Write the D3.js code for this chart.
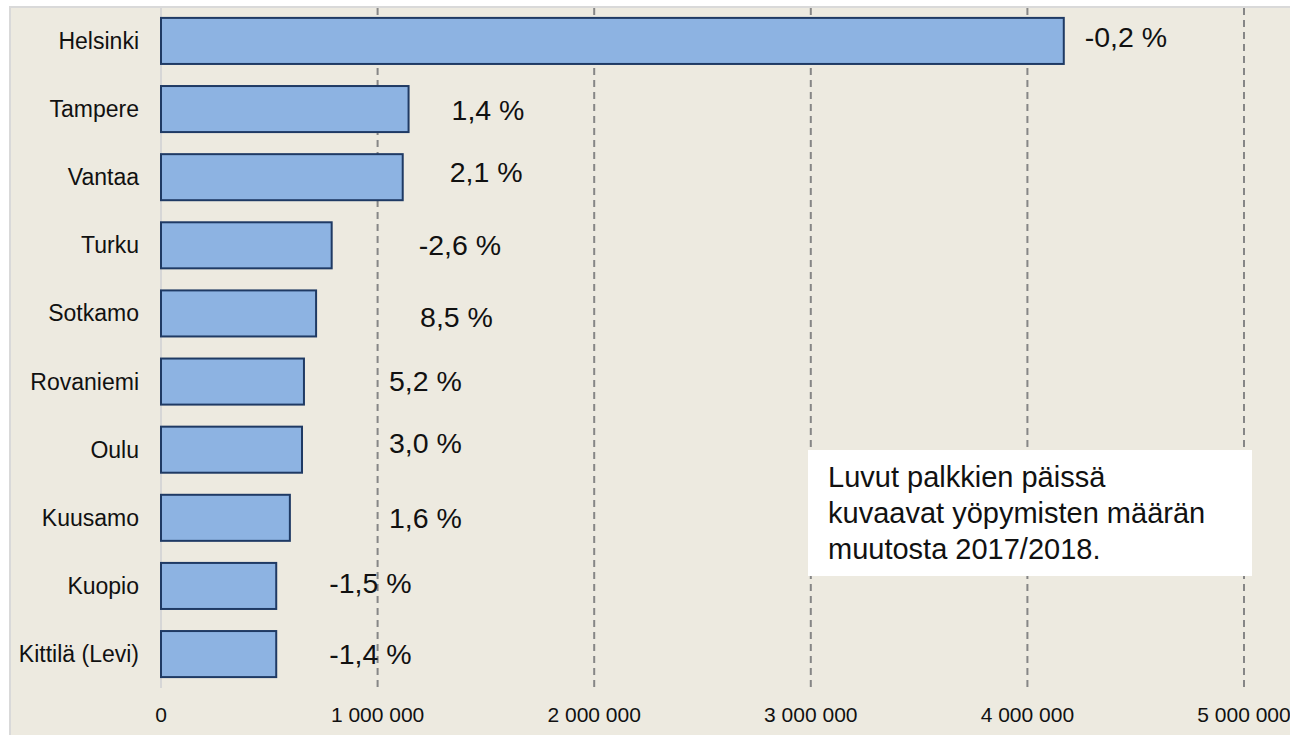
<!DOCTYPE html>
<html>
<head>
<meta charset="utf-8">
<script src="https://cdn.jsdelivr.net/npm/d3@7.9.0/dist/d3.min.js"></script>
<style>
  body { margin: 0; background: #fff; }
  svg { display: block; font-family: "Liberation Sans", Arial, sans-serif; }
</style>
</head>
<body>
<svg id="chart" width="1290" height="735"></svg>
<script>
// overnight stays 2018 by municipality
const cities = ['Helsinki', 'Tampere', 'Vantaa', 'Turku', 'Sotkamo', 'Rovaniemi', 'Oulu', 'Kuusamo', 'Kuopio', 'Kittilä (Levi)'];
const stays = [4168000, 1143000, 1116000, 788000, 716000, 660000, 651000, 595000, 532000, 532000];
const changes = ['-0,2 %', '1,4 %', '2,1 %', '-2,6 %', '8,5 %', '5,2 %', '3,0 %', '1,6 %', '-1,5 %', '-1,4 %'];
const ticks = [0, 1000000, 2000000, 3000000, 4000000, 5000000];
const note = ['Luvut palkkien päissä', 'kuvaavat yöpymisten määrän', 'muutosta 2017/2018.'];

// label placement in the original is hand-nudged, so keep offsets separate
const labelDx = [21, 43, 47, 87, 104, 85, 87, 99, 53, 53];
const labelDy = [6, 11, 5, 10, 14, 9, 3, 10, 7, 10];

const svg = d3.select('#chart');
const W = 1290, H = 735;

// chart background
svg.append('rect')
  .attr('x', 10).attr('y', 7)
  .attr('width', W).attr('height', H)
  .attr('fill', '#edeae0')
  .attr('stroke', '#d9d9d9')
  .attr('stroke-width', 2);

let x = d3.scaleLinear().domain([0, 5000000]).range([161, 1244]);
let y = d3.scaleBand().domain(cities).range([7, 688]).paddingInner(0.324).paddingOuter(0.16);

let data = cities.map((c, i) => ({ city: c, value: stays[i], label: changes[i], dx: labelDx[i], dy: labelDy[i] }));

// gridlines
svg.append('g')
  .selectAll('line')
  .data(ticks.filter(t => t > 0))
  .join('line')
  .attr('x1', d => x(d)).attr('x2', d => x(d))
  .attr('y1', 8).attr('y2', 688)
  .attr('stroke', '#868686')
  .attr('stroke-width', 2)
  .attr('stroke-dasharray', '7,5');

// y axis line
svg.append('line')
  .attr('x1', x(0)).attr('x2', x(0))
  .attr('y1', 8).attr('y2', 688)
  .attr('stroke', '#d6d6d6')
  .attr('stroke-width', 2);

// bars
svg.append('g')
  .selectAll('rect')
  .data(data)
  .join('rect')
  .attr('x', x(0))
  .attr('y', d => y(d.city))
  .attr('width', d => x(d.value) - x(0))
  .attr('height', y.bandwidth())
  .attr('fill', '#8db3e2')
  .attr('stroke', '#1f3a64')
  .attr('stroke-width', 2);

// category labels
svg.append('g')
  .selectAll('text')
  .data(data)
  .join('text')
  .attr('x', 139)
  .attr('y', d => y(d.city) + y.bandwidth() / 2)
  .attr('dy', '0.35em')
  .attr('text-anchor', 'end')
  .attr('font-size', 23)
  .attr('fill', '#111')
  .text(d => d.city);

// change labels
svg.append('g')
  .selectAll('text')
  .data(data)
  .join('text')
  .attr('x', d => x(d.value) + d.dx)
  .attr('y', d => y(d.city) + y.bandwidth() / 2 + d.dy)
  .attr('font-size', 28.5)
  .attr('fill', '#111')
  .text(d => d.label);

// x tick labels
let fmt = d3.formatLocale({ decimal: ',', thousands: ' ', grouping: [3], currency: ['', ''] }).format(',d');
svg.append('g')
  .selectAll('text')
  .data(ticks)
  .join('text')
  .attr('x', d => x(d))
  .attr('y', 722)
  .attr('text-anchor', 'middle')
  .attr('font-size', 21)
  .attr('fill', '#111')
  .text(d => fmt(d));

// note box
let box = svg.append('g');
box.append('rect')
  .attr('x', 808).attr('y', 450)
  .attr('width', 444).attr('height', 126)
  .attr('fill', '#fff');
box.selectAll('text')
  .data(note)
  .join('text')
  .attr('x', 828)
  .attr('y', (d, i) => 487 + i * 35.8)
  .attr('font-size', 29)
  .attr('fill', '#111')
  .text(d => d);
</script>
</body>
</html>
